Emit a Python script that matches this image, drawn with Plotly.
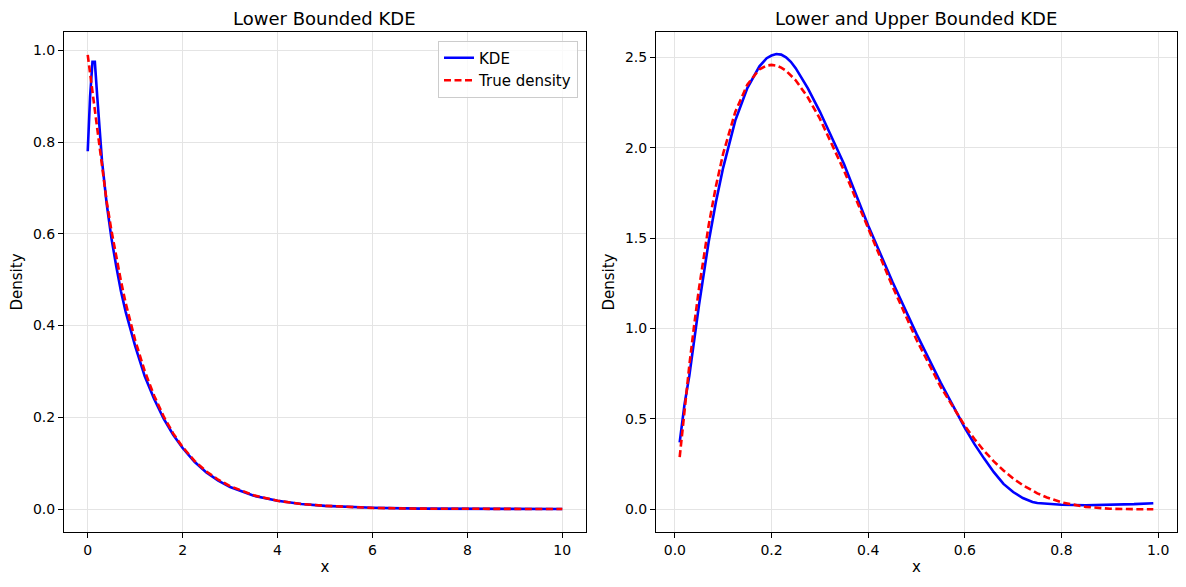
import plotly.graph_objects as go

# ---------------- data ----------------
x_left = [0, 0.05, 0.1, 0.15, 0.2, 0.3, 0.4, 0.5, 0.6, 0.7, 0.8, 0.9, 1.0, 1.2, 1.4,
          1.6, 1.8, 2.0, 2.25, 2.5, 2.75, 3.0, 3.5, 4.0, 4.5, 5.0, 6.0, 7.0, 8.0, 9.0, 10.0]
kde_left = [0.78, 0.90, 0.975, 0.975, 0.90, 0.76, 0.665, 0.59, 0.53, 0.475, 0.43, 0.39,
            0.355, 0.29, 0.24, 0.197, 0.162, 0.133, 0.103, 0.08, 0.062, 0.048, 0.029,
            0.018, 0.011, 0.007, 0.003, 0.001, 0.0005, 0.0002, 0.0001]
true_left = [0.99, 0.95, 0.905, 0.86, 0.82, 0.74, 0.67, 0.607, 0.549, 0.497, 0.449, 0.407,
             0.368, 0.301, 0.247, 0.202, 0.165, 0.135, 0.105, 0.082, 0.064, 0.05, 0.030,
             0.018, 0.011, 0.007, 0.0025, 0.0009, 0.0003, 0.0001, 0.00005]

x_right = [0.01, 0.02, 0.03, 0.04, 0.05, 0.07, 0.085, 0.1, 0.125, 0.15, 0.175, 0.19, 0.2,
           0.21, 0.22, 0.23, 0.24, 0.25, 0.275, 0.3, 0.35, 0.4, 0.45, 0.5, 0.55, 0.6,
           0.62, 0.64, 0.66, 0.68, 0.7, 0.72, 0.74, 0.75, 0.77, 0.8, 0.85, 0.9, 0.95, 0.99]
kde_right = [0.37, 0.58, 0.74, 0.94, 1.13, 1.48, 1.70, 1.89, 2.15, 2.33, 2.45, 2.495, 2.51,
             2.518, 2.515, 2.50, 2.475, 2.44, 2.33, 2.20, 1.91, 1.57, 1.26, 0.97, 0.70, 0.45,
             0.36, 0.28, 0.205, 0.14, 0.095, 0.062, 0.04, 0.034, 0.029, 0.025, 0.022,
             0.024, 0.028, 0.033]
true_right = [0.288, 0.553, 0.797, 1.019, 1.222, 1.571, 1.787, 1.968, 2.198, 2.349, 2.434,
              2.454, 2.458, 2.454, 2.443, 2.426, 2.402, 2.373, 2.279, 2.161, 1.874, 1.555,
              1.235, 0.9375, 0.677, 0.461, 0.388, 0.3225, 0.265, 0.214, 0.170, 0.133,
              0.101, 0.088, 0.065, 0.038, 0.013, 0.0027, 0.0002, 0.0]

titles = ["Lower Bounded KDE", "Lower and Upper Bounded KDE"]
FONT = "DejaVu Sans"
W, H = 1186, 587
TICK = 14
LAB = 15

fig = go.Figure()
blue = dict(color="#0000ff", width=2.6)
red = dict(color="#ff0000", width=2.6, dash="7px,3.5px")

fig.add_trace(go.Scatter(x=x_left, y=kde_left, mode="lines", line=blue, name="KDE",
                         xaxis="x", yaxis="y", legendgroup="kde"))
fig.add_trace(go.Scatter(x=x_left, y=true_left, mode="lines", line=red, name="True density",
                         xaxis="x", yaxis="y", legendgroup="true"))
fig.add_trace(go.Scatter(x=x_right, y=kde_right, mode="lines", line=blue, name="KDE",
                         xaxis="x2", yaxis="y2", showlegend=False))
fig.add_trace(go.Scatter(x=x_right, y=true_right, mode="lines", line=red, name="True density",
                         xaxis="x2", yaxis="y2", showlegend=False))

GRID = "#e4e4e4"
common = dict(showline=True, linecolor="black", linewidth=1, mirror=True,
              ticks="outside", ticklen=5, tickwidth=1, tickcolor="black",
              showgrid=True, gridcolor=GRID, gridwidth=1, zeroline=False,
              tickfont=dict(family=FONT, size=TICK, color="black"),
              automargin=False)

dom_y = [55 / H, 555 / H]
dom_x1 = [64 / W, 586 / W]
dom_x2 = [656 / W, 1177 / W]

fig.update_layout(
    width=W, height=H,
    margin=dict(l=0, r=0, t=0, b=0),
    paper_bgcolor="white", plot_bgcolor="white",
    font=dict(family=FONT, size=TICK, color="black"),
    xaxis=dict(domain=dom_x1, range=[-0.5, 10.5], tickvals=[0, 2, 4, 6, 8, 10],
               title=dict(text="x", standoff=4, font=dict(size=LAB)), anchor="y", **common),
    yaxis=dict(domain=dom_y, range=[-0.05, 1.04], tickvals=[0, 0.2, 0.4, 0.6, 0.8, 1.0],
               tickformat=".1f", title=dict(text="Density", standoff=6, font=dict(size=LAB)),
               anchor="x", **common),
    xaxis2=dict(domain=dom_x2, range=[-0.039, 1.039], tickvals=[0, 0.2, 0.4, 0.6, 0.8, 1.0],
                tickformat=".1f", title=dict(text="x", standoff=4, font=dict(size=LAB)),
                anchor="y2", **common),
    yaxis2=dict(domain=dom_y, range=[-0.126, 2.64], tickvals=[0, 0.5, 1.0, 1.5, 2.0, 2.5],
                tickformat=".1f", title=dict(text="Density", standoff=6, font=dict(size=LAB)),
                anchor="x2", **common),
    legend=dict(x=578 / W, y=1 - 40.5 / H, xanchor="right", yanchor="top",
                bgcolor="rgba(255,255,255,0.8)", bordercolor="#cccccc", borderwidth=1,
                font=dict(family=FONT, size=15, color="black"), tracegroupgap=0),
    showlegend=True,
)

for i, t in enumerate(titles):
    d = dom_x1 if i == 0 else dom_x2
    fig.add_annotation(text=t, x=(d[0] + d[1]) / 2, y=1 - 18 / H, xref="paper", yref="paper",
                       showarrow=False, xanchor="center", yanchor="middle",
                       font=dict(family=FONT, size=18, color="black"))

fig.write_html("out.html")
